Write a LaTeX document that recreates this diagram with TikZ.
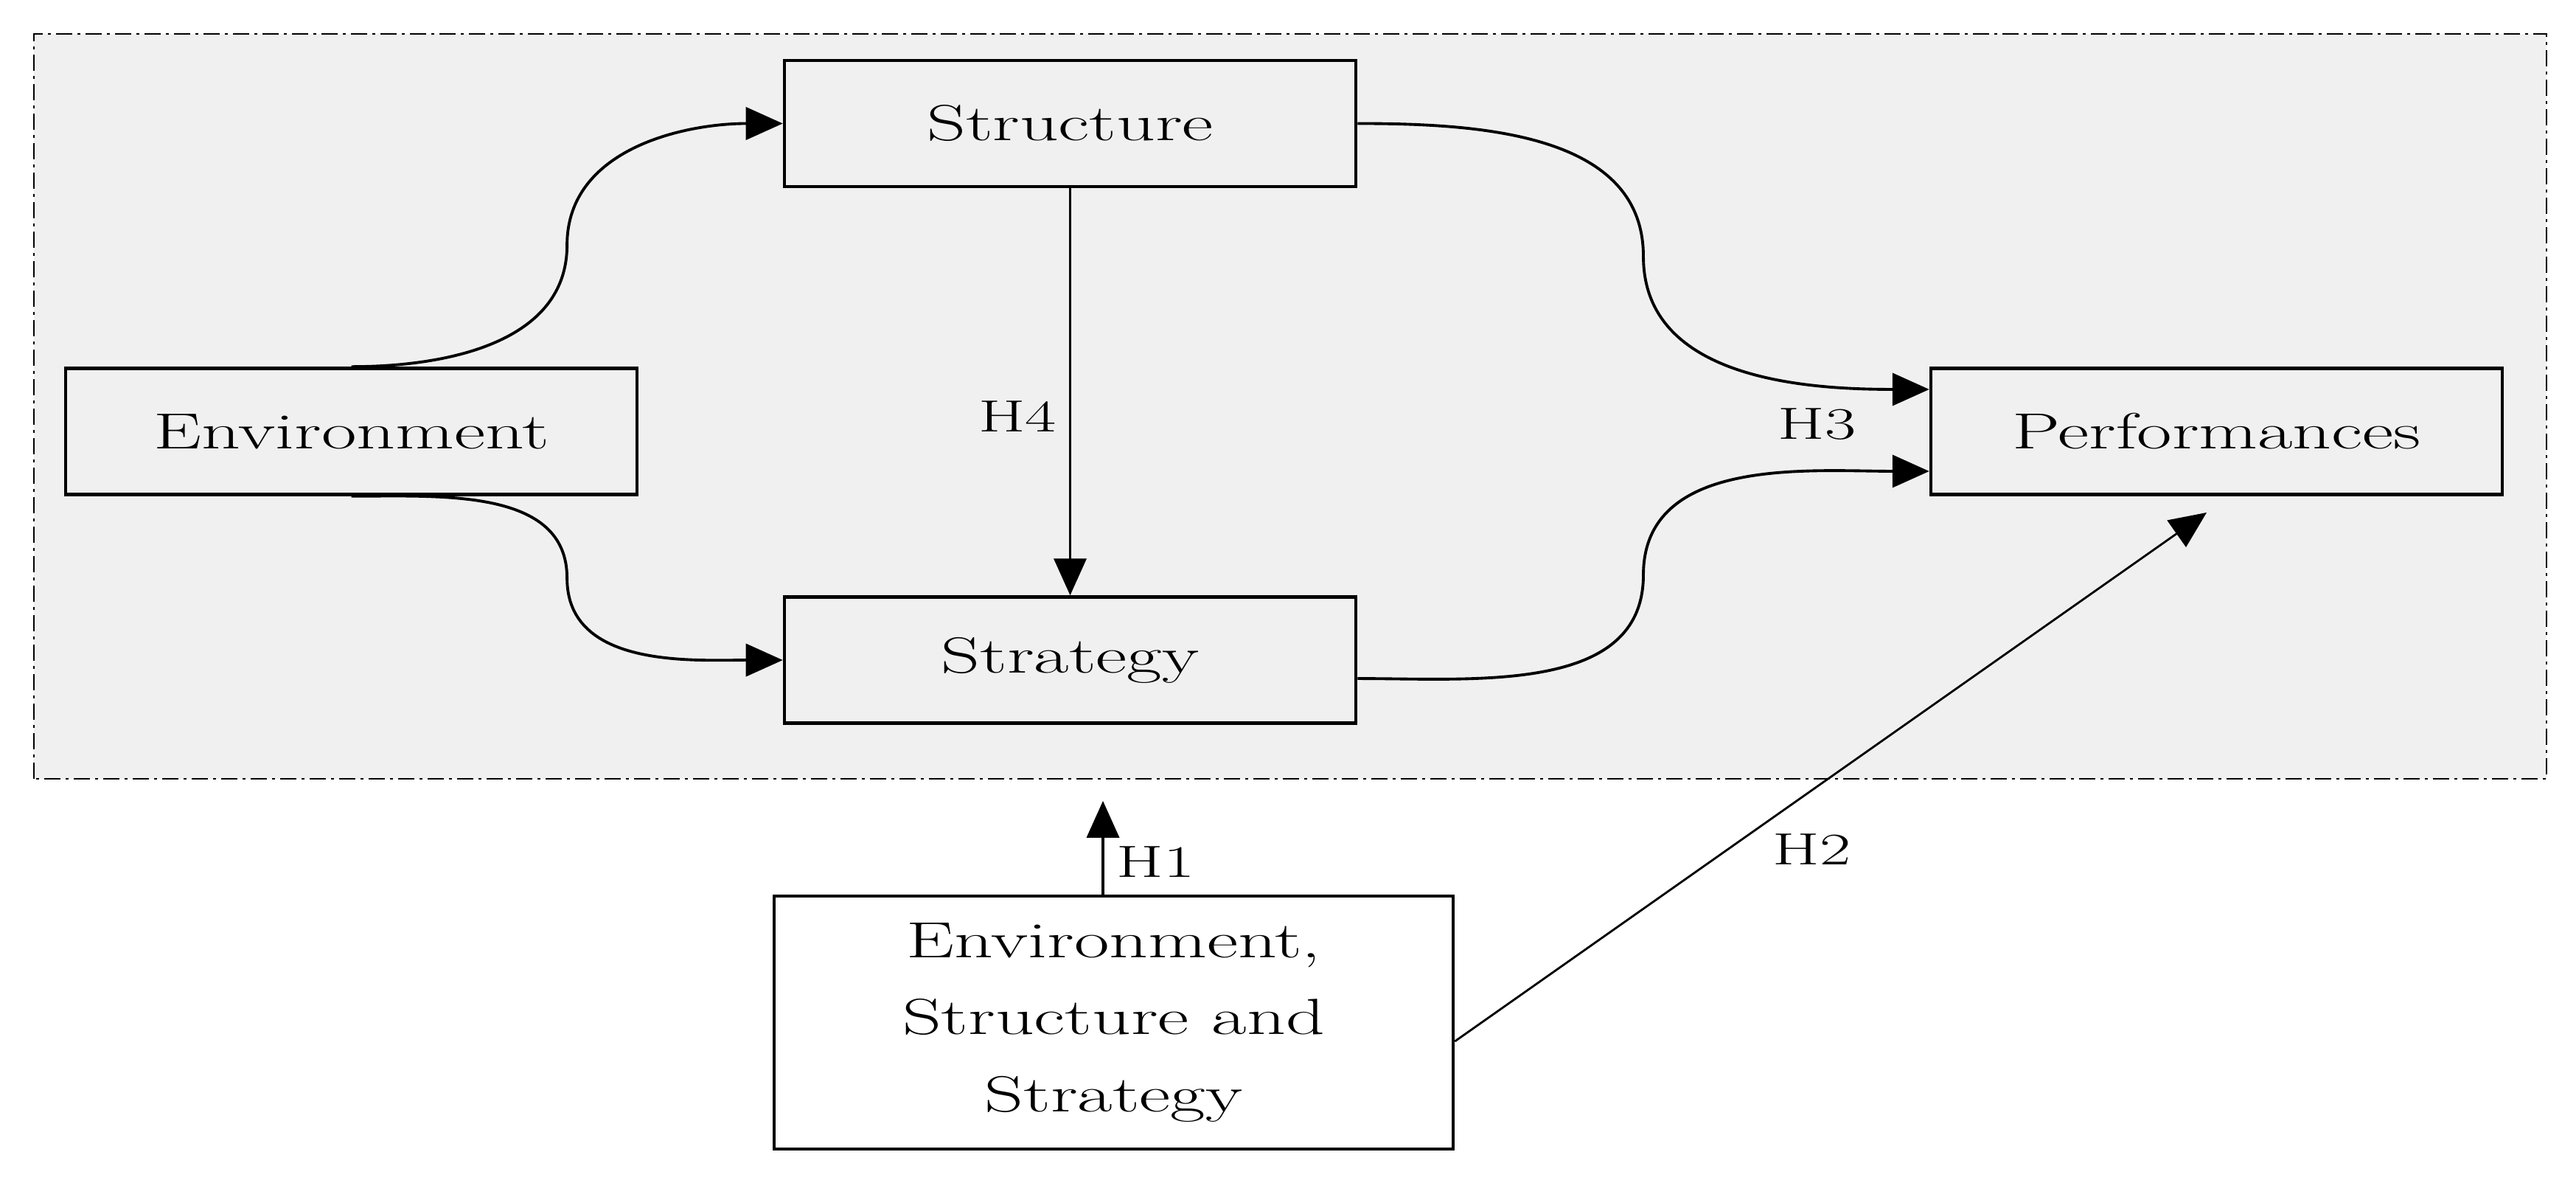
\documentclass[tikz,border=0pt]{standalone}
\usepackage{fontspec}
\setmainfont{Latin Modern Roman}[FakeStretch=1.5]
\usetikzlibrary{positioning,arrows.meta,calc}
\definecolor{fondo}{HTML}{F0F0F0}
\tikzset{
  block/.style={draw, line width=1.3pt, minimum width=7.75cm, minimum height=1.71cm, inner sep=0pt, font=\fontsize{19.6}{24}\selectfont},
  link/.style={line width=1.1pt, -{Triangle[length=0.5cm,width=0.44cm]}},
  hlabel/.style={font=\fontsize{17.4}{21}\selectfont}
}
\begin{document}
\begin{tikzpicture}
            \useasboundingbox (0,0) rectangle (34.94,16);
            % Marco
            \draw[fill=fondo, line width=0.7pt, dash pattern=on 0.22cm off 0.07cm on 0.04cm off 0.07cm] (0.46,5.44) rectangle (34.54,15.54);

            % Bloques
            \draw node[block] (envN) at (4.765,10.15) {Environment};
            \draw node[block] (structureN) at (14.515,14.325) {Structure};
            \draw node[block, below = 5.52cm of structureN] (strategyN) {Strategy};
            \draw node[block] (perfN) at (30.065,10.15) {Performances};
            \draw node[block, fill=white, minimum width=9.21cm, minimum height=3.43cm, align=center, font=\fontsize{19.6}{29.8}\selectfont] (allN) at (15.105,2.135) {Environment,\\Structure and\\Strategy};
            \coordinate (h1tip) at (14.96,5.14);
            \coordinate (h2tip) at (29.93,9.05);
            \coordinate (p3a) at ([yshift=0.57cm]perfN.west);
            \coordinate (p3b) at ([yshift=-0.54cm]perfN.west);
            \coordinate (s3b) at ([yshift=-0.25cm]strategyN.east);

            % Relaciones
            \draw[link] (envN.north) to[out=0, in=-90] ($(envN.north)!0.5!(structureN.west)$) to[out=90, in=180] (structureN.west);
            \draw[link] (envN.south) to[out=0, in=90] ($(envN.south)!0.5!(strategyN.west)$) to[out=-90, in=180] (strategyN.west);
            \draw[link] (structureN.east) to[out=0, in=90] ($(structureN.east)!0.5!(p3a)$) to[out=-90, in=180] (p3a);
            \draw[link] (s3b) to[out=0, in=-90] ($(s3b)!0.5!(p3b)$) to[out=90, in=180] (p3b);
            \draw[link] (structureN.south) -- (strategyN.north) node[hlabel, pos=0.56, left=0.05cm] {H4};
            \draw node[hlabel, left = 0.87cm of perfN.west, yshift=0.1cm] (h3N) {H3};

            % Hipotesis H1 y H2
            \draw[link] (h1tip |- allN.north) -- (h1tip) node[hlabel, pos=0.35, right=0.05cm] {H1};
            \draw[link, line width=0.8pt] ([yshift=-0.255cm]allN.east) -- (h2tip) node[hlabel, pos=0.41, anchor=north west] {H2};

        \end{tikzpicture}
\end{document}
